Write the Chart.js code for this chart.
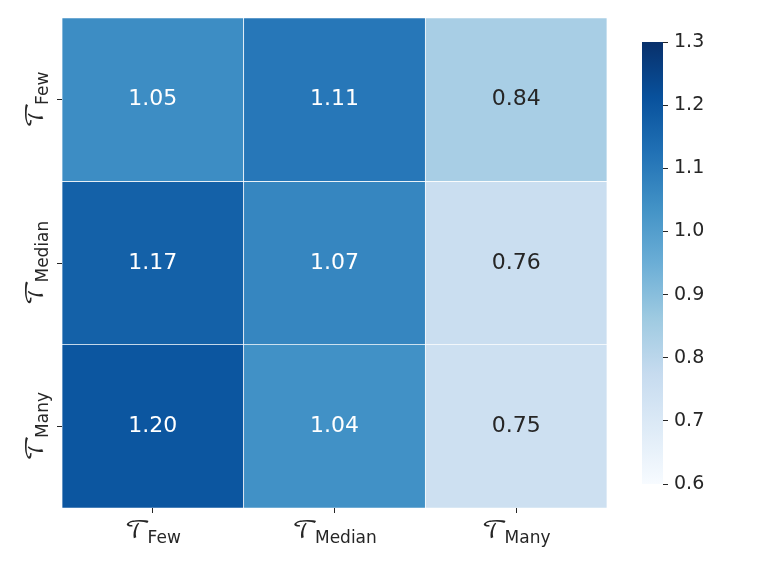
<!DOCTYPE html>
<html>
<head>
<meta charset="utf-8">
<script src="https://cdn.jsdelivr.net/npm/chart.js"></script>
<style>
  body { margin: 0; background: #fff; }
  #wrap { position: relative; width: 761px; height: 571px; }
  canvas { position: absolute; left: 0; top: 0; }
</style>
</head>
<body>
<div id="wrap">
  <canvas id="heat" width="761" height="571"></canvas>
  <canvas id="cbar" width="761" height="571"></canvas>
</div>
<script>
// data
var colLabels = ['Few', 'Median', 'Many'];
var rowLabels = ['Few', 'Median', 'Many'];
var rowFew    = [1.05, 1.11, 0.84];
var rowMedian = [1.17, 1.07, 0.76];
var rowMany   = [1.20, 1.04, 0.75];
var barTicks  = [0.6, 0.7, 0.8, 0.9, 1.0, 1.1, 1.2, 1.3];
var vmin = 0.6, vmax = 1.3;

var rows = [rowFew, rowMedian, rowMany];
var SCRIPT_T = '\u{1D4AF}';
var DARK = '#262626';

// matplotlib "Blues"
var blues = ['#f7fbff', '#deebf7', '#c6dbef', '#9ecae1', '#6baed6',
             '#4292c6', '#2171b5', '#08519c', '#08306b'];

function hexRgb(h) {
  return [parseInt(h.substr(1, 2), 16), parseInt(h.substr(3, 2), 16), parseInt(h.substr(5, 2), 16)];
}

function bluesRgb(v) {
  var t = (v - vmin) / (vmax - vmin);
  t = Math.max(0, Math.min(1, t));
  var pos = t * (blues.length - 1);
  var i = Math.min(Math.floor(pos), blues.length - 2);
  var f = pos - i;
  var a = hexRgb(blues[i]), b = hexRgb(blues[i + 1]);
  return [0, 1, 2].map(function (k) { return Math.round(a[k] + (b[k] - a[k]) * f); });
}

function bluesColor(v) {
  var c = bluesRgb(v);
  return 'rgb(' + c[0] + ',' + c[1] + ',' + c[2] + ')';
}

function textColor(v) {
  var c = bluesRgb(v).map(function (x) {
    x = x / 255;
    return x <= 0.03928 ? x / 12.92 : Math.pow((x + 0.055) / 1.055, 2.4);
  });
  var lum = 0.2126 * c[0] + 0.7152 * c[1] + 0.0722 * c[2];
  return lum > 0.408 ? DARK : '#ffffff';
}

Chart.defaults.font.family = 'DejaVu Sans';
Chart.defaults.color = DARK;

// T with subscript, centred on 0 along the text direction
function drawLabel(ctx, sub) {
  var gap = -3;
  ctx.font = '25px "DejaVu Math TeX Gyre", "DejaVu Serif", serif';
  var wT = ctx.measureText(SCRIPT_T).width;
  ctx.font = '17px "DejaVu Sans"';
  var wS = ctx.measureText(sub).width;
  var x0 = -(wT + gap + wS) / 2;
  ctx.fillStyle = DARK;
  ctx.textAlign = 'left';
  ctx.textBaseline = 'alphabetic';
  ctx.font = '25px "DejaVu Math TeX Gyre", "DejaVu Serif", serif';
  ctx.fillText(SCRIPT_T, x0, -5);
  ctx.font = '17px "DejaVu Sans"';
  ctx.fillText(sub, x0 + wT + gap, 0);
}

var cellText = {
  id: 'cellText',
  afterDatasetsDraw: function (chart) {
    var ctx = chart.ctx;
    var xs = chart.scales.x, ys = chart.scales.y;
    ctx.save();
    ctx.font = '22px "DejaVu Sans"';
    ctx.textAlign = 'center';
    ctx.textBaseline = 'middle';
    rows.forEach(function (vals, r) {
      vals.forEach(function (v, c) {
        ctx.fillStyle = textColor(v);
        ctx.fillText(v.toFixed(2), xs.getPixelForValue(c), ys.getPixelForValue(r + 0.5));
      });
    });
    ctx.restore();
  },
  afterDraw: function (chart) {
    var ctx = chart.ctx;
    var xs = chart.scales.x, ys = chart.scales.y;
    colLabels.forEach(function (lab, c) {
      ctx.save();
      ctx.translate(xs.getPixelForValue(c), 543);
      drawLabel(ctx, lab);
      ctx.restore();
    });
    rowLabels.forEach(function (lab, r) {
      ctx.save();
      ctx.translate(48, ys.getPixelForValue(r + 0.5));
      ctx.rotate(-Math.PI / 2);
      drawLabel(ctx, lab);
      ctx.restore();
    });
  }
};

var datasets = rows.map(function (vals, r) {
  return {
    data: vals.map(function () { return [r, r + 1]; }),
    backgroundColor: vals.map(bluesColor),
    borderColor: '#ffffff',
    borderWidth: 0.7,
    borderSkipped: false,
    grouped: false,
    barPercentage: 1,
    categoryPercentage: 1
  };
});

new Chart(document.getElementById('heat'), {
  type: 'bar',
  data: { labels: colLabels, datasets: datasets },
  options: {
    responsive: false,
    animation: false,
    layout: { padding: { left: 0, right: 154, top: 18, bottom: 0 } },
    plugins: { legend: { display: false }, tooltip: { enabled: false } },
    scales: {
      x: {
        type: 'category',
        grid: { display: true, drawOnChartArea: false, offset: false, tickLength: 5, color: DARK },
        border: { display: false },
        ticks: { callback: function () { return ''; } },
        afterFit: function (s) { s.height = 63; }
      },
      y: {
        type: 'linear',
        min: 0,
        max: 3,
        reverse: true,
        afterBuildTicks: function (s) {
          s.ticks = [0.5, 1.5, 2.5].map(function (v) { return { value: v }; });
        },
        grid: { display: true, drawOnChartArea: false, tickLength: 5, color: DARK },
        border: { display: false },
        ticks: { callback: function () { return ''; } },
        afterFit: function (s) { s.width = 62; }
      }
    }
  },
  plugins: [cellText]
});

// colour bar
new Chart(document.getElementById('cbar'), {
  type: 'bar',
  data: {
    labels: [''],
    datasets: [{
      data: [[vmin, vmax]],
      backgroundColor: function (c) {
        var area = c.chart.chartArea;
        if (!area) return blues[4];
        var g = c.chart.ctx.createLinearGradient(0, area.bottom, 0, area.top);
        blues.forEach(function (col, i) { g.addColorStop(i / (blues.length - 1), col); });
        return g;
      },
      borderWidth: 0,
      barPercentage: 1,
      categoryPercentage: 1
    }]
  },
  options: {
    responsive: false,
    animation: false,
    layout: { padding: { left: 642, right: 0, top: 42, bottom: 87 } },
    plugins: { legend: { display: false }, tooltip: { enabled: false } },
    scales: {
      x: { display: false },
      y: {
        position: 'right',
        min: vmin,
        max: vmax,
        afterBuildTicks: function (s) {
          s.ticks = barTicks.map(function (v) { return { value: v }; });
        },
        grid: { display: true, drawOnChartArea: false, tickLength: 5, color: DARK },
        border: { display: false },
        ticks: {
          padding: 6,
          color: DARK,
          font: { size: 19 },
          callback: function (v) { return Number(v).toFixed(1); }
        },
        afterFit: function (s) { s.width = 98; }
      }
    }
  }
});
</script>
</body>
</html>
